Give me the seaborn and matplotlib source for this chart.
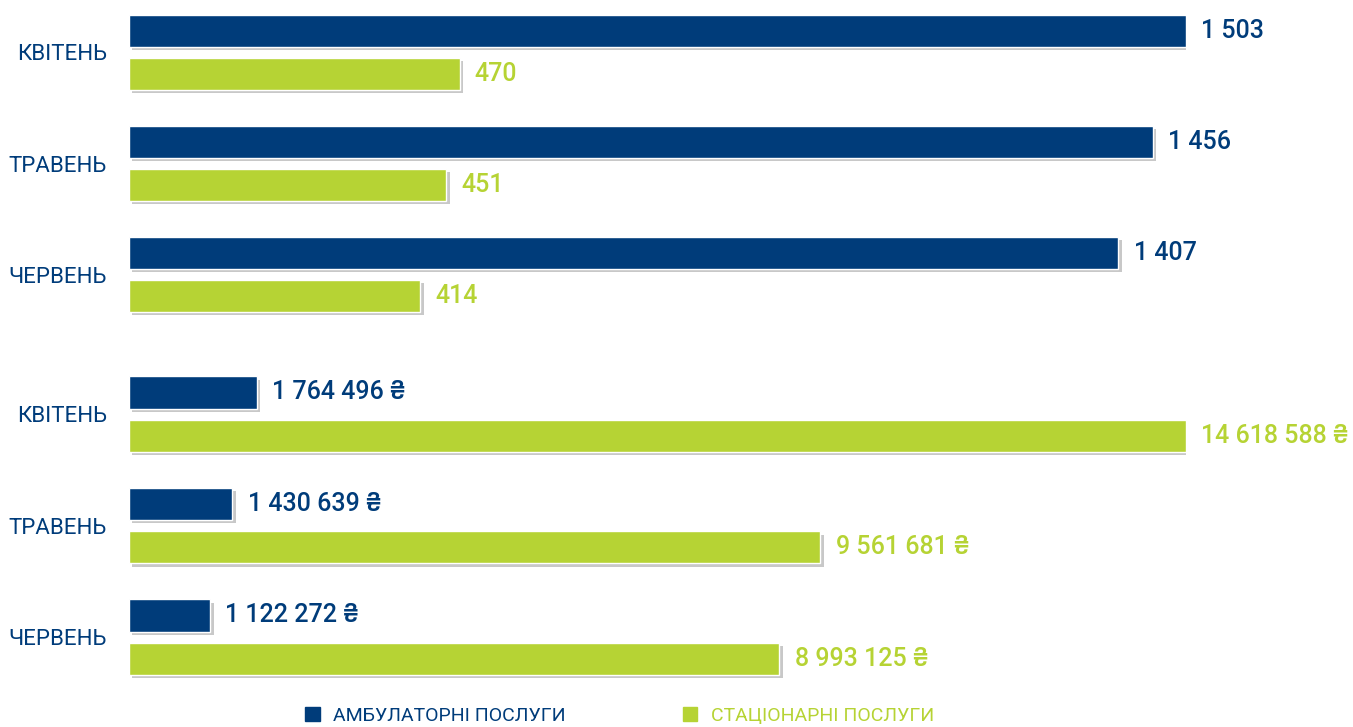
import matplotlib
matplotlib.use("Agg")
import matplotlib.pyplot as plt
import matplotlib.patheffects as pe
from matplotlib.patches import Patch
import seaborn as sns
import pandas as pd

months = ["КВІТЕНЬ", "ТРАВЕНЬ", "ЧЕРВЕНЬ"]
series = ["АМБУЛАТОРНІ ПОСЛУГИ", "СТАЦІОНАРНІ ПОСЛУГИ"]
count_amb = [1503, 1456, 1407]
count_stat = [470, 451, 414]
sum_amb = [1764496, 1430639, 1122272]
sum_stat = [14618588, 9561681, 8993125]

navy = "#003c7a"
lime = "#b6d334"
palette = {series[0]: navy, series[1]: lime}


def long_df(a, b):
    return pd.DataFrame({
        "month": months * 2,
        "kind": [series[0]] * 3 + [series[1]] * 3,
        "value": a + b,
    })


def fmt(v, suffix=""):
    return f"{v:,}".replace(",", " ") + suffix


sns.set_style("white")
plt.rcParams["font.family"] = ["Roboto", "DejaVu Sans"]

fig = plt.figure(figsize=(13.53, 7.27), dpi=100)
ax1 = fig.add_axes([129 / 1353, 0.5537, 1057 / 1353, 0.4428])
ax2 = fig.add_axes([129 / 1353, 0.0547, 1057 / 1353, 0.4448])

shadow = [pe.SimplePatchShadow(offset=(2.5, -2.5), shadow_rgbFace="#c8c8c8", alpha=1.0), pe.Normal()]

for ax, a, b, suffix in [(ax1, count_amb, count_stat, ""), (ax2, sum_amb, sum_stat, " ₴")]:
    df = long_df(a, b)
    sns.barplot(data=df, x="value", y="month", hue="kind", hue_order=series,
                order=months, palette=palette, orient="h", width=0.775, gap=0.256,
                saturation=1, legend=False, ax=ax)
    ax.set_xlim(0, max(a + b))
    ax.set_ylim(2.45, -0.45)
    for bars, col in zip(ax.containers, [navy, lime]):
        for bar, v in zip(bars, bars.datavalues):
            bar.set_path_effects(shadow)
            ax.annotate(fmt(int(v), suffix), (bar.get_width(), bar.get_y() + bar.get_height() / 2),
                        xytext=(11, 0), textcoords="offset points", va="center", ha="left",
                        fontsize=18, fontweight="medium", color=col, annotation_clip=False)
    ax.set_xlabel("")
    ax.set_ylabel("")
    ax.set_xticks([])
    ax.tick_params(axis="y", length=0, pad=16, labelsize=16, labelcolor=navy)
    sns.despine(ax=ax, left=True, bottom=True)

handles = [Patch(color=navy, label=series[0]), Patch(color=lime, label=series[1])]
leg = fig.legend(handles=handles, loc="center", bbox_to_anchor=(0.458, 0.015), ncol=2,
                 frameon=False, fontsize=14, handlelength=0.75, handleheight=0.75,
                 columnspacing=6.0, handletextpad=0.7)
for t, col in zip(leg.get_texts(), [navy, lime]):
    t.set_color(col)

fig.savefig("out.png", dpi=100)
